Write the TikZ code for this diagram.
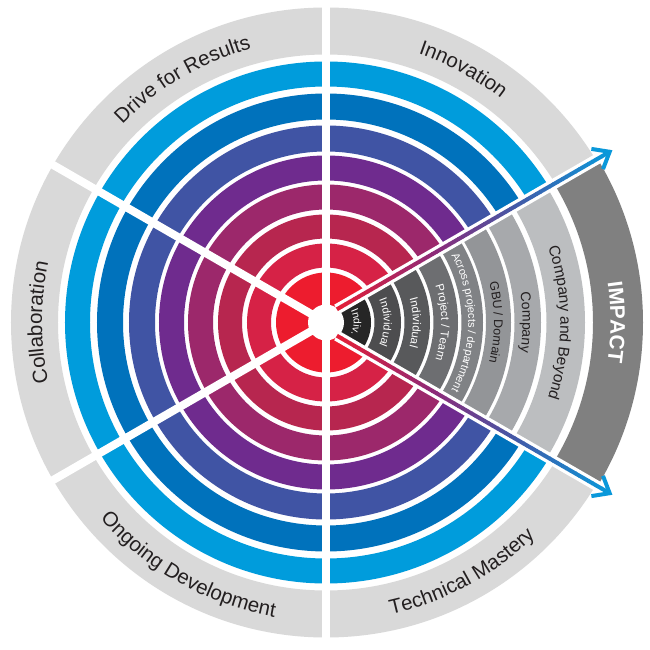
\documentclass[tikz,border=0pt]{standalone}
\usepackage{fontspec}
\setmainfont{Liberation Sans}
\usetikzlibrary{calc,decorations.text}

\definecolor{cA}{HTML}{ED1C2E}
\definecolor{cB}{HTML}{D62246}
\definecolor{cC}{HTML}{B7264F}
\definecolor{cD}{HTML}{9C286B}
\definecolor{cE}{HTML}{6F2B8E}
\definecolor{cF}{HTML}{4054A4}
\definecolor{cG}{HTML}{0072BC}
\definecolor{cH}{HTML}{009CDC}
\definecolor{ringgray}{HTML}{D9D9D9}
\definecolor{gA}{HTML}{262626}
\definecolor{gB}{HTML}{4D4D4F}
\definecolor{gC}{HTML}{58595B}
\definecolor{gD}{HTML}{6D6E71}
\definecolor{gE}{HTML}{808285}
\definecolor{gF}{HTML}{939598}
\definecolor{gG}{HTML}{A7A9AC}
\definecolor{gH}{HTML}{BCBEC0}
\definecolor{gI}{HTML}{808080}
\definecolor{txtdark}{HTML}{231F20}
\definecolor{sA}{HTML}{E21F38}
\definecolor{sB}{HTML}{8E2A78}
\definecolor{sC}{HTML}{4558A6}
\definecolor{sD}{HTML}{0A98DA}
\definecolor{arrowblue}{HTML}{0A98DA}

\newcommand\myannulus[3]{\fill[#1,even odd rule] (0,0) circle[radius=#3] (0,0) circle[radius=#2];}

\tikzset{
  sep/.style={white, line width=8pt},
  shaftborder/.style={white, line width=10.6pt},
  barb/.style={arrowblue, line width=4pt, line join=miter, line cap=butt},
  ringlabel/.style={decorate, decoration={text along path, text align=center, text color=txtdark, text={|\fontsize{20.5}{20.5}\selectfont|#1}}},
  wedgelight/.style 2 args={decorate, decoration={text along path, text align=center, text color=white, text={|\fontsize{#1}{#1}\selectfont|#2}}},
  wedgedark/.style 2 args={decorate, decoration={text along path, text align=center, text color=txtdark, text={|\fontsize{#1}{#1}\selectfont|#2}}},
  wedgebold/.style 2 args={decorate, decoration={text along path, text align=center, text color=white, text={|\fontsize{#1}{#1}\selectfont\bfseries|#2}}},
}

\begin{document}
\begin{tikzpicture}[x=1pt,y=1pt]
\useasboundingbox[fill=white] (-326,-327.5) rectangle (324,322.5);

% key coordinates of the two arrows
\coordinate (U0) at (120:6);
\coordinate (L0) at (-120:6);
\coordinate (Uf) at ($(30:420)+(120:6)$);
\coordinate (Lf) at ($(-30:420)+(-120:6)$);
\coordinate (Far) at (460,0);
\coordinate (Us) at ($(30:16)+(120:6)$);
\coordinate (Ls) at ($(-30:16)+(-120:6)$);
\coordinate (Ue) at ($(30:322)+(120:6)$);
\coordinate (Le) at ($(-30:322)+(-120:6)$);
\coordinate (UTip) at ($(30:331)+(120:6)$);
\coordinate (LTip) at ($(-30:331)+(-120:6)$);
\coordinate (UB1) at ($(UTip)+(171:18.5)$);
\coordinate (UB2) at ($(UTip)+(249:18.5)$);
\coordinate (LB1) at ($(LTip)+(111:18.5)$);
\coordinate (LB2) at ($(LTip)+(189:18.5)$);

% coloured rings
\fill[cA] (0,0) circle[radius=50];
\myannulus{cB}{55}{79}
\myannulus{cC}{84}{108}
\myannulus{cD}{113}{138}
\myannulus{cE}{142}{167}
\myannulus{cF}{171}{197}
\myannulus{cG}{203}{229}
\myannulus{cH}{236}{261}
\myannulus{ringgray}{268}{315}

% impact wedge
\fill[white] (L0) -- (U0) -- (Uf) -- (Far) -- (Lf) -- cycle;
\begin{scope}
\clip (L0) -- (U0) -- (Uf) -- (Far) -- (Lf) -- cycle;
\fill[gA] (0,0) circle[radius=45];
\myannulus{gB}{48.5}{75}
\myannulus{gC}{78.5}{104}
\myannulus{gD}{107.5}{132}
\myannulus{gE}{135.5}{157}
\myannulus{gF}{160}{185}
\myannulus{gG}{188.5}{215}
\myannulus{gH}{220.5}{259}
\myannulus{gI}{267}{317}
\end{scope}

% white separators
\coordinate (VT) at (0,320);
\coordinate (VB) at (0,-320);
\coordinate (C0) at (0,0);
\coordinate (S150) at (150:320);
\coordinate (S210) at (210:320);
\draw[sep] (VB) -- (VT);
\draw[sep] (C0) -- (S150);
\draw[sep] (C0) -- (S210);
\draw[shaftborder] (Us) -- (Ue);
\draw[shaftborder] (Ls) -- (Le);
\fill[white] (C0) circle[radius=18];

% gradient shafts
\foreach \k in {0,...,62}{
  \pgfmathsetmacro\da{16+\k*5}
  \pgfmathsetmacro\db{\da+5.6}
  \pgfmathsetmacro\myt{\k/62}
  \ifdim \myt pt < 0.35pt
    \pgfmathtruncatemacro\pp{\myt/0.35*100}
    \colorlet{segc}{sB!\pp!sA}
  \else \ifdim \myt pt < 0.65pt
    \pgfmathtruncatemacro\pp{(\myt-0.35)/0.3*100}
    \colorlet{segc}{sC!\pp!sB}
  \else
    \pgfmathtruncatemacro\pp{(\myt-0.65)/0.35*100}
    \colorlet{segc}{sD!\pp!sC}
  \fi\fi
  \draw[segc, line width=4pt] ($(30:\da)+(120:6)$) -- ($(30:\db)+(120:6)$);
  \draw[segc, line width=4pt] ($(-30:\da)+(-120:6)$) -- ($(-30:\db)+(-120:6)$);
}
\draw[barb] (UB1) -- (UTip) -- (UB2);
\draw[barb] (LB1) -- (LTip) -- (LB2);

% outer ring labels
\path[ringlabel={Innovation}] (91.5:284) arc[start angle=91.5, end angle=31.5, radius=284];
\path[ringlabel={Drive for Results}] (150.5:284) arc[start angle=150.5, end angle=90.5, radius=284];
\path[ringlabel={Collaboration}] (210:284) arc[start angle=210, end angle=150, radius=284];
\path[ringlabel={Ongoing Development}] (205.5:299) arc[start angle=205.5, end angle=275.5, radius=299];
\path[ringlabel={Technical Mastery}] (268.5:299) arc[start angle=268.5, end angle=328.5, radius=299];

% wedge labels
\path[wedgelight={10.5}{Indiv.}] (50:27.7) arc[start angle=50, end angle=-50, radius=27.7];
\path[wedgelight={11}{Individual}] (40:57.8) arc[start angle=40, end angle=-40, radius=57.8];
\path[wedgelight={11.5}{Individual}] (40:86.9) arc[start angle=40, end angle=-40, radius=86.9];
\path[wedgelight={11.5}{Project / Team}] (40:115.4) arc[start angle=40, end angle=-40, radius=115.4];
\path[wedgelight={11}{Across projects / department}] (40:142.3) arc[start angle=40, end angle=-40, radius=142.3];
\path[wedgedark={12.5}{GBU / Domain}] (40:168) arc[start angle=40, end angle=-40, radius=168];
\path[wedgedark={14}{Company}] (40:196.7) arc[start angle=40, end angle=-40, radius=196.7];
\path[wedgedark={15.5}{Company and Beyond}] (40:234.4) arc[start angle=40, end angle=-40, radius=234.4];
\path[wedgebold={21}{IMPACT}] (40:284.5) arc[start angle=40, end angle=-40, radius=284.5];
\end{tikzpicture}
\end{document}
